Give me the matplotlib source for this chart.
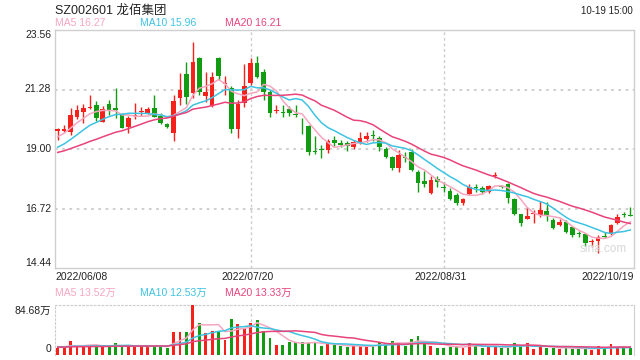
import numpy as np
import pandas as pd
import matplotlib
matplotlib.use('Agg')
import matplotlib.pyplot as plt

FONT = ['Liberation Sans', 'Noto Sans CJK SC', 'DejaVu Sans']
plt.rcParams['font.family'] = FONT

# 日K 2022/06/08 - 2022/10/19
opens = [19.68, 19.68, 19.66, 20.21, 20.43, 20.58, 20.69, 20.05, 20.72, 20.57,
         20.30, 19.85, 20.26, 20.41, 20.37, 20.56, 20.26, 19.95, 19.60, 20.94,
         21.87, 21.13, 22.49, 21.04, 20.65, 22.49, 21.50, 21.33, 19.78, 20.75,
         21.52, 22.28, 21.95, 21.20, 20.47, 20.43, 20.53, 20.34, 20.19, 19.88,
         18.91, 19.00, 18.96, 19.34, 19.22, 19.22, 19.09, 19.26, 19.39, 19.52,
         19.41, 18.99, 18.68, 18.26, 18.69, 18.90, 18.13, 17.77, 17.33, 17.85,
         17.54, 17.40, 17.24, 16.94, 17.28, 17.50, 17.52, 17.36, 17.96, 17.55,
         17.66, 17.08, 16.50, 16.33, 16.50, 16.47, 16.62, 16.28, 16.09, 16.21,
         16.00, 15.75, 15.74, 15.44, 15.47, 15.65, 15.74, 16.15, 16.51, 16.49]
highs = [19.80, 19.92, 20.57, 20.69, 20.72, 21.07, 20.85, 20.65, 20.88, 21.33,
         20.38, 20.26, 20.75, 20.60, 20.62, 21.07, 20.37, 20.01, 21.07, 21.90,
         22.32, 23.10, 22.52, 21.96, 21.96, 22.52, 21.81, 21.41, 20.88, 22.25,
         22.48, 22.56, 22.05, 21.26, 20.69, 20.69, 20.65, 20.69, 20.20, 19.92,
         19.50, 19.15, 19.38, 19.50, 19.34, 19.32, 19.34, 19.64, 19.64, 19.73,
         19.50, 19.06, 18.73, 18.96, 18.87, 18.99, 18.19, 18.17, 17.97, 17.97,
         17.75, 17.49, 17.31, 17.12, 17.65, 17.66, 17.58, 17.62, 18.13, 17.62,
         17.70, 17.12, 16.52, 16.79, 16.66, 17.02, 16.98, 16.36, 16.31, 16.28,
         16.05, 15.87, 15.78, 15.55, 15.70, 15.83, 16.13, 16.50, 16.60, 16.78]
lows = [19.35, 19.65, 19.54, 20.14, 19.98, 20.55, 20.08, 20.02, 20.30, 20.18,
        19.80, 19.60, 20.14, 20.26, 20.33, 20.22, 19.96, 19.79, 19.32, 20.69,
        20.72, 20.94, 21.07, 20.81, 20.60, 21.64, 21.07, 19.60, 19.41, 20.60,
        21.45, 21.71, 20.88, 20.21, 20.37, 20.24, 20.26, 20.24, 19.57, 18.77,
        18.81, 18.67, 18.86, 19.11, 19.08, 18.93, 19.00, 19.20, 19.26, 19.32,
        18.93, 18.65, 18.20, 18.13, 18.51, 18.15, 17.36, 17.53, 17.28, 17.53,
        17.36, 17.05, 16.85, 16.85, 17.24, 17.36, 17.28, 17.30, 17.88, 17.49,
        16.93, 16.46, 16.06, 16.30, 16.15, 16.38, 16.25, 15.92, 16.05, 15.80,
        15.64, 15.64, 15.28, 15.26, 15.00, 15.60, 15.70, 16.12, 16.39, 16.42]
closes = [19.76, 19.77, 20.30, 20.49, 20.57, 20.61, 20.20, 20.52, 20.49, 20.49,
          19.82, 20.20, 20.29, 20.46, 20.53, 20.24, 20.01, 19.83, 20.84, 21.26,
          21.00, 22.33, 21.20, 21.20, 21.77, 21.81, 21.53, 19.75, 20.72, 21.41,
          22.28, 21.77, 21.20, 20.39, 20.50, 20.37, 20.39, 20.29, 20.17, 18.90,
          18.89, 18.98, 19.31, 19.22, 19.15, 19.11, 19.27, 19.41, 19.50, 19.50,
          19.07, 18.70, 18.26, 18.76, 18.67, 18.20, 17.71, 17.65, 17.81, 17.72,
          17.52, 17.08, 16.94, 17.08, 17.53, 17.49, 17.36, 17.58, 17.98, 17.53,
          17.12, 16.50, 16.18, 16.43, 16.52, 16.66, 16.47, 15.96, 16.21, 15.83,
          15.70, 15.74, 15.39, 15.46, 15.64, 15.63, 16.09, 16.41, 16.49, 16.43]
# 成交量 (万)
volumes = [12.4, 12.4, 23.7, 15.8, 14.1, 17.5, 15.2, 14.1, 14.1, 20.3,
           14.1, 15.2, 14.1, 15.2, 14.1, 15.2, 15.2, 11.9, 39.0, 39.0,
           39.0, 84.68, 54.8, 37.3, 40.1, 40.1, 25.4, 60.4, 52.5, 46.3,
           54.8, 59.3, 40.1, 28.8, 16.9, 16.9, 22.0, 21.5, 22.0, 20.0,
           20.9, 15.2, 18.6, 16.9, 15.2, 13.0, 15.2, 15.2, 15.2, 16.4,
           22.6, 19.8, 23.7, 19.8, 15.2, 27.1, 32.2, 20.9, 15.2, 12.4,
           12.4, 14.1, 15.2, 12.4, 20.9, 15.2, 12.4, 14.1, 14.1, 12.4,
           12.4, 20.9, 15.2, 20.9, 10.7, 14.1, 12.4, 12.4, 10.7, 12.4,
           10.7, 10.7, 10.7, 8.5, 15.2, 10.7, 18.6, 14.1, 12.4, 12.4]
# 区间之前的收盘价/成交量, 只用来算均线起点
prev_closes = [18.55, 18.62, 18.70, 18.78, 18.66, 18.58, 18.64, 18.72, 18.75, 18.70,
               18.52, 18.60, 18.68, 18.70, 18.85, 19.10, 19.32, 19.47, 19.70]
prev_volumes = [13.5, 12.8, 14.2, 13.0, 12.5, 13.8, 12.9, 13.4, 12.6, 13.1,
                13.7, 12.9, 13.3, 14.5, 12.8, 13.6, 14.0, 15.2, 14.4]

date_idx = [0, 30, 60, 89]
date_labels = ['2022/06/08', '2022/07/20', '2022/08/31', '2022/10/19']
price_ticks = [23.56, 21.28, 19.00, 16.72, 14.44]

RED = '#f5221b'
GREEN = '#129c12'
C_MA5 = '#f7a6c0'
C_MA10 = '#3ec3e2'
C_MA20 = '#e8437b'
GRID = '#cccccc'
TXT = '#222222'

n = len(closes)
x = np.arange(n)
o = np.array(opens); c = np.array(closes)
h = np.array(highs); l = np.array(lows)
colors = [RED if cc >= oo else GREEN for oo, cc in zip(o, c)]

cs = pd.Series(prev_closes + closes)
vs = pd.Series(prev_volumes + volumes)
k = len(prev_closes)
ma = {w: cs.rolling(w, min_periods=1).mean().values[k:] for w in (5, 10, 20)}
vma = {w: vs.rolling(w, min_periods=1).mean().values[k:] for w in (5, 10, 20)}

fig = plt.figure(figsize=(6.4, 3.6), dpi=100)
W, H = 640, 360
L0, R0 = 54.5, 633.5
ax = fig.add_axes([L0 / W, 1 - 268 / H, (R0 - L0) / W, 238 / H])
axv = fig.add_axes([L0 / W, 1 - 355 / H, (R0 - L0) / W, 50 / H])

# K线
ax.vlines(x, l, h, colors=colors, linewidth=1, zorder=3)
body = np.maximum(np.abs(c - o), 0.035)
ax.bar(x, body, bottom=np.minimum(o, c), width=0.72, color=colors,
       linewidth=0, zorder=4)
ax.plot(x, ma[5], color=C_MA5, lw=1.1, zorder=5)
ax.plot(x, ma[10], color=C_MA10, lw=1.1, zorder=5)
ax.plot(x, ma[20], color=C_MA20, lw=1.1, zorder=5)

ax.set_xlim(-0.5, n - 0.5)
ax.set_ylim(price_ticks[-1], price_ticks[0])
for yv in price_ticks[1:-1]:
    ax.axhline(yv, color=GRID, lw=1.3, ls=(0, (1.5, 2.5)), zorder=1)
for xi in date_idx[1:3]:
    ax.axvline(xi, color=GRID, lw=1, ls=(0, (2, 2)), zorder=1)
ax.set_xticks([]); ax.set_yticks([])
for s in ax.spines.values():
    s.set_color('#cfcfcf'); s.set_linewidth(1)

# 成交量
axv.bar(x, volumes, width=0.45, color=colors, linewidth=0, zorder=3)
axv.plot(x, vma[5], color=C_MA5, lw=1.1, zorder=4)
axv.plot(x, vma[10], color=C_MA10, lw=1.1, zorder=4)
axv.plot(x, vma[20], color=C_MA20, lw=1.1, zorder=4)
axv.set_xlim(-0.5, n - 0.5)
axv.set_ylim(0, max(volumes))
for xi in date_idx[1:3]:
    axv.axvline(xi, color=GRID, lw=1, ls=(0, (2, 2)), zorder=1)
axv.set_xticks([]); axv.set_yticks([])
axv.spines['bottom'].set_visible(False)
for side in ('top', 'left'):
    axv.spines[side].set_color(GRID)
    axv.spines[side].set_linestyle((0, (1.5, 2)))
axv.spines['right'].set_color('#cfcfcf')


def ft(px, py, s, **kw):
    kw.setdefault('color', TXT)
    kw.setdefault('fontsize', 7.5)
    fig.text(px / W, 1 - py / H, s, family=FONT, **kw)


ft(55, 11, 'SZ002601 龙佰集团', fontsize=9, va='center')
ft(633, 11, '10-19 15:00', fontsize=7, ha='right', va='center')
ft(55, 23.5, 'MA5 16.27', color=C_MA5, va='center')
ft(140, 23.5, 'MA10 15.96', color=C_MA10, va='center')
ft(225, 23.5, 'MA20 16.21', color=C_MA20, va='center')

# 价格刻度
ft(51, 35, f'{price_ticks[0]:.2f}', ha='right', va='center')
for yv in price_ticks[1:-1]:
    py = 30 + (price_ticks[0] - yv) / (price_ticks[0] - price_ticks[-1]) * 238
    ft(51, py, f'{yv:.2f}', ha='right', va='center')
ft(51, 263, f'{price_ticks[-1]:.2f}', ha='right', va='center')

# 日期
for xi, lab in zip(date_idx, date_labels):
    px = L0 + (xi + 0.5) * (R0 - L0) / n
    if xi == 0:
        ft(55, 277, lab, ha='left', va='center')
    elif xi == n - 1:
        ft(634, 277, lab, ha='right', va='center')
    else:
        ft(px - 3, 277, lab, ha='center', va='center')

ft(55, 293, 'MA5 13.52万', color=C_MA5, va='center')
ft(140, 293, 'MA10 12.53万', color=C_MA10, va='center')
ft(225, 293, 'MA20 13.33万', color=C_MA20, va='center')
ft(51, 311, f'{max(volumes):.2f}万', ha='right', va='center')
ft(51, 349, '0', ha='right', va='center')

ft(603, 249, 'sina.com', color='#d8d8d8', fontsize=8.5, ha='center', va='center')

fig.savefig('out.png', dpi=100)
